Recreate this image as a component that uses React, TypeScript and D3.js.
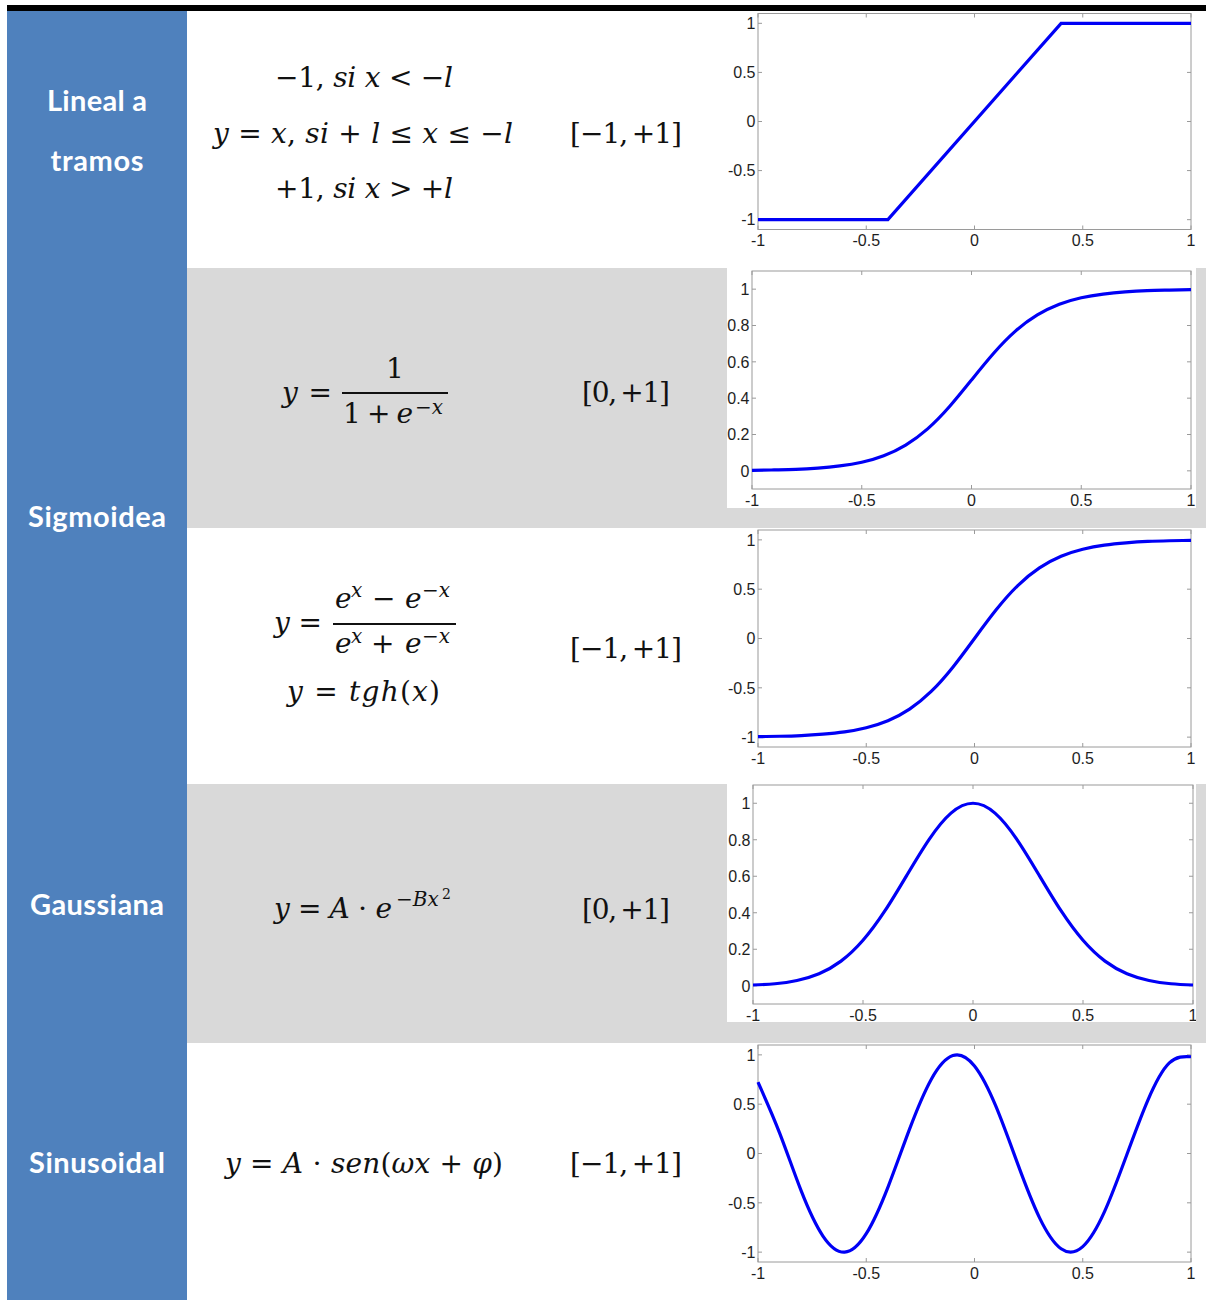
import React from 'react';
import * as d3 from 'd3';

const W = 1206;
const H = 1300;

// Activation function families
const familyLabels = ['Lineal a', 'tramos', 'Sigmoidea', 'Gaussiana', 'Sinusoidal'];

// Axis ticks
const xTicks = [-1, -0.5, 0, 0.5, 1];
const symTicks = [-1, -0.5, 0, 0.5, 1];
const unitTicks = [0, 0.2, 0.4, 0.6, 0.8, 1];

// Sample abscissas for the curved plots
const sampleX = [-1, -0.9, -0.8, -0.7, -0.6, -0.5, -0.4, -0.3, -0.2, -0.1, 0, 0.1, 0.2, 0.3, 0.4, 0.5, 0.6, 0.7, 0.8, 0.9, 1];

// Piecewise linear (saturating ramp)
const rampX = [-1, -0.4, 0.4, 1];
const rampY = [-1, -1, 1, 1];

// Logistic sigmoid
const logisticY = [0.002, 0.005, 0.008, 0.015, 0.027, 0.047, 0.083, 0.142, 0.231, 0.354, 0.5, 0.646, 0.769, 0.858, 0.917, 0.953, 0.973, 0.985, 0.992, 0.995, 0.998];

// Hyperbolic tangent
const tanhY = [-0.995, -0.991, -0.984, -0.97, -0.947, -0.905, -0.834, -0.716, -0.537, -0.291, 0, 0.291, 0.537, 0.716, 0.834, 0.905, 0.947, 0.97, 0.984, 0.991, 0.995];

// Gaussian bell
const gaussY = [0.004, 0.011, 0.029, 0.066, 0.135, 0.249, 0.411, 0.607, 0.801, 0.946, 1, 0.946, 0.801, 0.607, 0.411, 0.249, 0.135, 0.066, 0.029, 0.011, 0.004];

// Sinusoid
const sineY = [0.723, 0.207, -0.382, -0.837, -1.0, -0.813, -0.343, 0.247, 0.751, 0.993, 0.887, 0.472, -0.108, -0.65, -0.966, -0.944, -0.592, -0.033, 0.537, 0.919, 0.981];

const BLUE_COL = '#4f81bd';
const GRAY_ROW = '#d9d9d9';
const MATH_FONT = '"DejaVu Serif", serif';
const TICK_FONT = '"Liberation Sans", Arial, sans-serif';
const MATH_SIZE = 28;
const SUP_SIZE = 20;

type Box = { x0: number; x1: number; y0: number; y1: number };
type Panel = { x: number; y: number; w: number; h: number };

function zip(xs: number[], ys: number[]): [number, number][] {
  return xs.map((v, i) => [v, ys[i]] as [number, number]);
}

function Plot({ id, panel, box, yDomain, yTicks, xs, ys, curve }: {
  id: string; panel: Panel; box: Box; yDomain: [number, number]; yTicks: number[];
  xs: number[]; ys: number[]; curve: d3.CurveFactory;
}) {
  const x = d3.scaleLinear().domain([-1, 1]).range([box.x0, box.x1]);
  const y = d3.scaleLinear().domain(yDomain).range([box.y1, box.y0]);
  const line = d3.line<[number, number]>().x(d => x(d[0])).y(d => y(d[1])).curve(curve);
  const tl = 4;
  const axisColor = '#9a9a9a';
  const fmt = (v: number) => String(v);
  return (
    <g clipPath={`url(#${id})`}>
      <defs>
        <clipPath id={id}>
          <rect x={panel.x} y={panel.y} width={panel.w} height={panel.h} />
        </clipPath>
      </defs>
      <rect x={panel.x} y={panel.y} width={panel.w} height={panel.h} fill="#fff" />
      <rect x={box.x0} y={box.y0} width={box.x1 - box.x0} height={box.y1 - box.y0}
        fill="none" stroke={axisColor} strokeWidth={1} />
      {xTicks.map(t => (
        <g key={'x' + t}>
          <line x1={x(t)} x2={x(t)} y1={box.y1} y2={box.y1 - tl} stroke={axisColor} />
          <line x1={x(t)} x2={x(t)} y1={box.y0} y2={box.y0 + tl} stroke={axisColor} />
          <text x={x(t)} y={box.y1 + 16.5} textAnchor="middle" fontFamily={TICK_FONT}
            fontSize={16} fill="#1e1e1e">{fmt(t)}</text>
        </g>
      ))}
      {yTicks.map(t => (
        <g key={'y' + t}>
          <line x1={box.x0} x2={box.x0 + tl} y1={y(t)} y2={y(t)} stroke={axisColor} />
          <line x1={box.x1} x2={box.x1 - tl} y1={y(t)} y2={y(t)} stroke={axisColor} />
          <text x={box.x0 - 2.5} y={y(t)} dy="0.36em" textAnchor="end" fontFamily={TICK_FONT}
            fontSize={16} fill="#1e1e1e">{fmt(t)}</text>
        </g>
      ))}
      <path d={line(zip(xs, ys)) || ''} fill="none" stroke="#0000f5" strokeWidth={3.2} />
    </g>
  );
}

const I = ({ children }: { children: React.ReactNode }) => <tspan fontStyle="italic">{children}</tspan>;

function MathText({ x, y, len, size = MATH_SIZE, anchor = 'start', children }: {
  x: number; y: number; len?: number; size?: number; anchor?: string; children: React.ReactNode;
}) {
  return (
    <text x={x} y={y} textLength={len} lengthAdjust={len ? 'spacing' : undefined}
      fontFamily={MATH_FONT} fontSize={size} fill="#111" textAnchor={anchor as any}>
      {children}
    </text>
  );
}

export default function App() {
  const label = (t: string, y: number, len: number) => (
    <text x={97} y={y} textAnchor="middle" fontFamily="Lato, 'Open Sans', sans-serif" fontWeight={700}
      fontSize={29} fill="#fff" textLength={len} lengthAdjust="spacing">{t}</text>
  );
  return (
    <svg width={W} height={H} style={{ position: 'absolute', left: 0, top: 0 }}>
      <rect x={0} y={0} width={W} height={H} fill="#fff" />
      {/* shaded table rows */}
      <rect x={186} y={268} width={W - 186} height={260} fill={GRAY_ROW} />
      <rect x={186} y={784} width={W - 186} height={259} fill={GRAY_ROW} />
      {/* first column */}
      <rect x={7} y={11} width={180} height={H - 11} fill={BLUE_COL} />
      {/* top rule */}
      <rect x={7} y={5} width={W - 7} height={6} fill="#000" />

      {label(familyLabels[0], 111, 100)}
      {label(familyLabels[1], 171, 93)}
      {label(familyLabels[2], 527, 138)}
      {label(familyLabels[3], 915, 134)}
      {label(familyLabels[4], 1173, 136)}

      {/* piecewise linear */}
      <MathText x={275} y={87} len={178}>−1, <I>si x</I> &lt; −<I>l</I></MathText>
      <MathText x={213} y={143} len={300}><I>y</I> = <I>x</I>, <I>si</I> + <I>l</I> ≤ <I>x</I> ≤ −<I>l</I></MathText>
      <MathText x={275} y={198} len={178}>+1, <I>si x</I> &gt; +<I>l</I></MathText>
      <MathText x={570} y={143} len={112}>[−1,{'\u2009'}+1]</MathText>

      {/* logistic */}
      <MathText x={282} y={402} len={50}><I>y</I> =</MathText>
      <MathText x={395} y={378} anchor="middle">1</MathText>
      <line x1={342} x2={448} y1={393} y2={393} stroke="#111" strokeWidth={2.2} />
      <MathText x={343} y={423} len={70}>1 + <I>e</I></MathText>
      <MathText x={415} y={414} size={SUP_SIZE}>−<I>x</I></MathText>
      <MathText x={582} y={402} len={88}>[0,{'\u2009'}+1]</MathText>

      {/* hyperbolic tangent */}
      <MathText x={274} y={632} len={48}><I>y</I> =</MathText>
      <line x1={333} x2={456} y1={624} y2={624} stroke="#111" strokeWidth={2.2} />
      <MathText x={335} y={608}><I>e</I></MathText>
      <MathText x={351} y={597} size={SUP_SIZE}><I>x</I></MathText>
      <MathText x={372} y={608}>−</MathText>
      <MathText x={405} y={608}><I>e</I></MathText>
      <MathText x={422} y={597} size={SUP_SIZE}>−<I>x</I></MathText>
      <MathText x={335} y={653}><I>e</I></MathText>
      <MathText x={351} y={643} size={SUP_SIZE}><I>x</I></MathText>
      <MathText x={371} y={653}>+</MathText>
      <MathText x={405} y={653}><I>e</I></MathText>
      <MathText x={422} y={643} size={SUP_SIZE}>−<I>x</I></MathText>
      <MathText x={287} y={701} len={153}><I>y</I> = <I>tgh</I>(<I>x</I>)</MathText>
      <MathText x={570} y={658} len={112}>[−1,{'\u2009'}+1]</MathText>

      {/* gaussian */}
      <MathText x={274} y={918} len={118}><I>y</I> = <I>A</I> ⋅ <I>e</I></MathText>
      <MathText x={396} y={906} size={SUP_SIZE}>−<I>Bx</I></MathText>
      <MathText x={442} y={899} size={14}>2</MathText>
      <MathText x={582} y={919} len={88}>[0,{'\u2009'}+1]</MathText>

      {/* sinusoid */}
      <MathText x={225} y={1173} len={278}><I>y</I> = <I>A</I> ⋅ <I>sen</I>(<I>ωx</I> + <I>φ</I>)</MathText>
      <MathText x={570} y={1173} len={112}>[−1,{'\u2009'}+1]</MathText>

      <Plot id="c1" panel={{ x: 727, y: 11, w: 469, h: 256 }} box={{ x0: 758, x1: 1191, y0: 13.5, y1: 229.5 }}
        yDomain={[-1.1, 1.1]} yTicks={symTicks} xs={rampX} ys={rampY} curve={d3.curveLinear} />
      <Plot id="c2" panel={{ x: 727, y: 268, w: 469, h: 240 }} box={{ x0: 752, x1: 1191, y0: 271, y1: 489 }}
        yDomain={[-0.1, 1.1]} yTicks={unitTicks} xs={sampleX} ys={logisticY} curve={d3.curveNatural} />
      <Plot id="c3" panel={{ x: 727, y: 528, w: 469, h: 255 }} box={{ x0: 758, x1: 1191, y0: 530, y1: 747 }}
        yDomain={[-1.1, 1.1]} yTicks={symTicks} xs={sampleX} ys={tanhY} curve={d3.curveNatural} />
      <Plot id="c4" panel={{ x: 727, y: 784, w: 469, h: 238 }} box={{ x0: 753, x1: 1193, y0: 785, y1: 1004 }}
        yDomain={[-0.1, 1.1]} yTicks={unitTicks} xs={sampleX} ys={gaussY} curve={d3.curveNatural} />
      <Plot id="c5" panel={{ x: 727, y: 1043, w: 469, h: 257 }} box={{ x0: 758, x1: 1191, y0: 1045, y1: 1262 }}
        yDomain={[-1.1, 1.1]} yTicks={symTicks} xs={sampleX} ys={sineY} curve={d3.curveNatural} />
    </svg>
  );
}
